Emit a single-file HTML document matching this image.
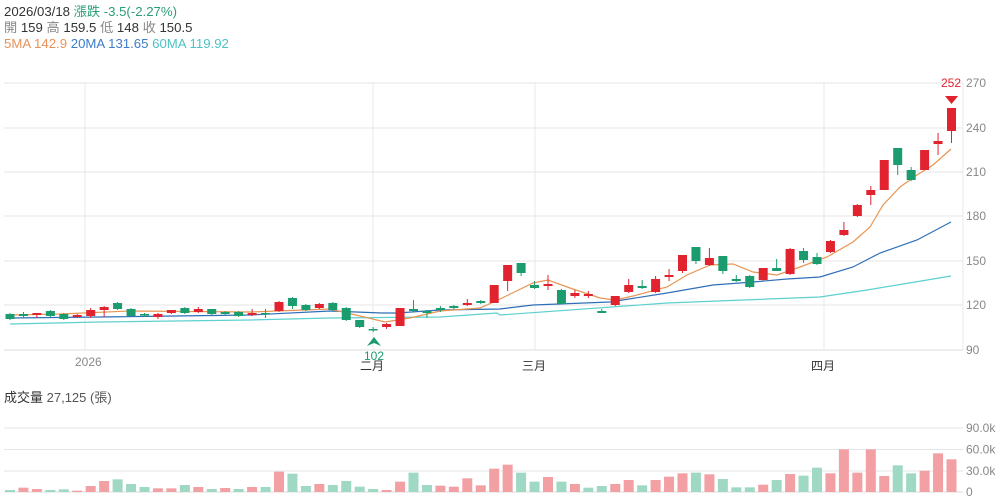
<!DOCTYPE html>
<html><head><meta charset="utf-8"><style>
body{margin:0;background:#fff;width:1002px;height:504px;overflow:hidden;font-family:"Liberation Sans","Noto Sans CJK TC",sans-serif}
svg{position:absolute;left:0;top:0}
</style></head><body>
<svg id="s" width="1002" height="504" xmlns="http://www.w3.org/2000/svg" font-family="Liberation Sans, Noto Sans CJK TC, sans-serif">
<text x="4" y="16" font-size="13.2" fill="#333">2026/03/18 <tspan fill="#2a9d74">漲跌 -3.5(-2.27%)</tspan></text>
<text x="4" y="32" font-size="13.2" fill="#333"><tspan fill="#888">開</tspan> 159 <tspan fill="#888">高</tspan> 159.5 <tspan fill="#888">低</tspan> 148 <tspan fill="#888">收</tspan> 150.5</text>
<text x="4" y="48" font-size="13.2"><tspan fill="#e8915a">5MA 142.9</tspan> <tspan fill="#3d7cc9">20MA 131.65</tspan> <tspan fill="#4cc3c7">60MA 119.92</tspan></text>
<text x="4" y="402" font-size="13" fill="#333">成交量 <tspan fill="#555">27,125 (張)</tspan></text>
<g id="g"></g>
</svg>
<script>
const g=document.getElementById('g');let h='';
const L=(x1,y1,x2,y2,c,w)=>`<line x1="${x1}" y1="${y1}" x2="${x2}" y2="${y2}" stroke="${c}" stroke-width="${w||1}"/>`;
const T=(x,y,t,c,s,a)=>`<text x="${x}" y="${y}" font-size="${s||12}" fill="${c}" text-anchor="${a||'start'}">${t}</text>`;
[[83,270],[128,240],[172,210],[216,180],[261,150],[305,120]].forEach(([y,v])=>{h+=L(4,y,963,y,'#e6e6e6');h+=T(966,y+4,v,'#888');});
h+=L(4,350,963,350,'#ddd');h+=T(966,354,90,'#888');
[85,373,535,824].forEach(x=>h+=L(x,83,x,350,'#e8e8e8'));
h+=L(963,83,963,350,'#e8e8e8');
h+=T(75,366,'2026','#888');h+=T(360,370,'二月','#333');h+=T(522,370,'三月','#333');h+=T(811,370,'四月','#333');
[[428,'90.0k'],[449.5,'60.0k'],[471,'30.0k']].forEach(([y,t])=>{h+=L(4,y,963,y,'#e3e6ea');h+=T(966,y+4,t,'#888');});
h+=L(4,492,963,492,'#ddd');h+=T(966,496,'0','#888');
const vz=[[240,'g'],[233,'r'],[237,'r'],[240,'g'],[238,'g'],[242,'r'],[228,'r'],[213,'r'],[208,'g'],[222,'g'],[231,'g'],[235,'r'],[235,'r'],[225,'g'],[231,'r'],[237,'g'],[234,'r'],[237,'g'],[231,'r'],[231,'g'],[185,'r'],[191,'g'],[228,'g'],[222,'r'],[225,'g'],[213,'g'],[230,'g'],[237,'g'],[240,'r'],[215,'r'],[188,'g'],[225,'g'],[227,'r'],[230,'r'],[205,'r'],[226,'r'],[176,'r'],[164,'r'],[188,'g'],[215,'g'],[201,'r'],[215,'g'],[222,'r'],[233,'g'],[228,'g'],[222,'r'],[210,'r'],[226,'g'],[210,'r'],[200,'r'],[190,'r'],[188,'g'],[193,'r'],[207,'g'],[232,'g'],[232,'g'],[224,'r'],[210,'g'],[192,'r'],[197,'g'],[173,'g'],[190,'r'],[118,'r'],[188,'r'],[118,'r'],[198,'r'],[166,'g'],[190,'g'],[182,'r'],[130,'r'],[148,'r']];
const X=i=>10+i*13.45;
vz.forEach(([z,c],i)=>{const y=410+z/3;h+=`<rect x="${X(i)-5}" y="${y}" width="10" height="${492-y}" fill="${c=='r'?'#f2a0a4':'#9fd9c4'}"/>`;});
const pl=(p,c)=>`<polyline points="${p}" fill="none" stroke="${c}" stroke-width="1.2"/>`;
h+=pl('10,324 100,322 250,320 330,318 440,317 497,313 500,315 667,303 820,297 867,290 951,276','#5dd0cf');
h+=pl('10,318 100,317 250,315 330,311 383,313 397,313 440,310 500,309 533,305 610,302 667,293 713,285 753,282 787,279 820,277 853,267 880,253 917,240 951,222','#2f6fb8');
h+=pl('10,315 60,314 130,311 250,312 330,309 360,316 385,322 410,318 440,311 480,308 500,299 533,283 548,280 570,288 600,298 615,300 633,296 667,287 687,275 710,265 733,264 753,272 777,275 800,267 827,257 853,242 870,227 883,205 900,187 917,175 933,165 951,149','#e89552');
const C=[[314,319,313,320,'g'],[314,316,312,318,'g'],[313,315,313,318,'r'],[311,316,310,317,'g'],[314,319,313,320,'g'],[315,317,314,318,'r'],[310,316,308,318,'r'],[307,310,306,317,'r'],[303,309,302,310,'g'],[309,316,308,316,'g'],[314,315,313,317,'g'],[314,317,313,319,'r'],[310,313,310,314,'r'],[308,313,307,314,'g'],[309,312,307,313,'r'],[309,314,309,315,'g'],[312,314,311,315,'g'],[312,316,311,317,'g'],[313,315,309,316,'r'],[313,314,309,318,'g'],[302,311,301,312,'r'],[298,306,297,309,'g'],[305,310,304,311,'g'],[304,308,303,309,'r'],[303,310,302,311,'g'],[308,320,307,321,'g'],[320,327,320,328,'g'],[329,330,327,332,'g'],[324,327,323,329,'r'],[308,326,308,326,'r'],[309,311,300,312,'g'],[311,313,310,318,'g'],[308,310,306,312,'g'],[306,308,305,309,'g'],[303,305,299,306,'r'],[301,303,300,304,'g'],[285,303,285,303,'r'],[265,281,265,291,'r'],[263,273,263,276,'g'],[285,288,281,289,'g'],[284,286,275,290,'r'],[290,304,289,304,'g'],[293,296,290,298,'r'],[294,296,291,298,'r'],[311,313,309,313,'g'],[296,305,296,306,'r'],[285,292,279,293,'r'],[286,288,280,289,'g'],[279,292,276,293,'r'],[275,277,269,281,'r'],[255,271,255,273,'r'],[247,261,247,264,'g'],[258,265,248,266,'r'],[256,271,256,274,'g'],[279,281,275,282,'g'],[276,287,275,288,'g'],[268,280,268,281,'r'],[268,271,259,271,'g'],[249,274,248,275,'r'],[251,260,248,263,'g'],[257,264,253,265,'g'],[241,252,240,253,'r'],[230,235,222,236,'r'],[205,216,204,217,'r'],[190,195,186,205,'r'],[160,190,160,190,'r'],[148,165,148,175,'g'],[170,180,167,181,'g'],[150,170,150,170,'r'],[141,144,133,155,'r'],[108,131,108,143,'r']];
C.forEach(([t,b,wh,wl,c],i)=>{const x=X(i),col=c=='r'?'#e0232e':'#1a9c6e';h+=L(x,wh,x,wl,col);h+=`<rect x="${x-4.5}" y="${t}" width="9" height="${Math.max(b-t,1.5)}" fill="${col}"/>`;});
h+=`<polygon points="374,337 367,346 374,343 381,346" fill="#1a9c6e"/>`+T(374,360,'102','#1a9c6e',12,'middle');
h+=`<polygon points="945,96 958,96 951.5,104" fill="#e0232e"/>`+T(951,87,'252','#e0232e',12,'middle');
g.innerHTML=h;
</script>
</body></html>
